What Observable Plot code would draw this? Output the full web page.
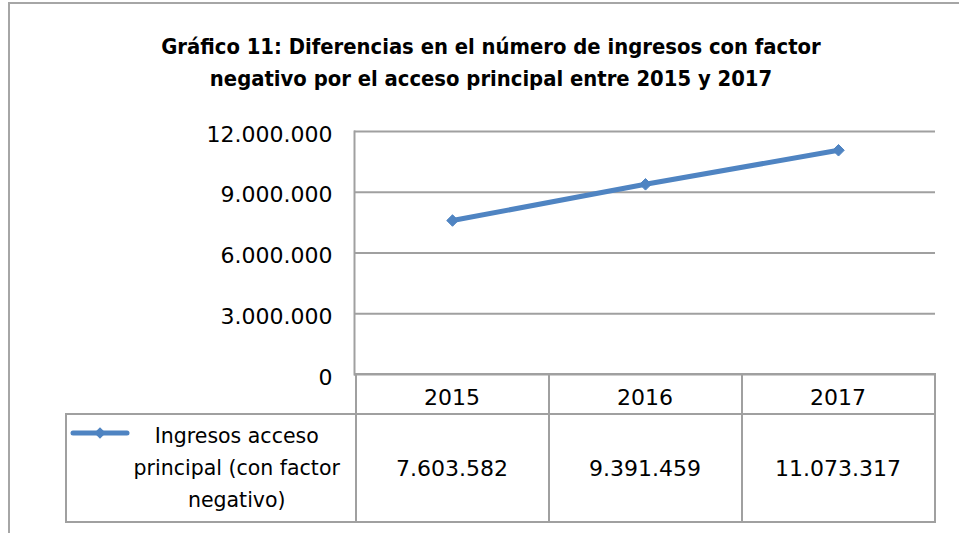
<!DOCTYPE html>
<html><head><meta charset="utf-8">
<script src="https://cdn.jsdelivr.net/npm/d3@7"></script>
<script src="https://cdn.jsdelivr.net/npm/@observablehq/plot@0.6"></script>
<style>
html,body{margin:0;padding:0;background:#fff;}
body{width:959px;height:533px;overflow:hidden;position:relative;font-family:"DejaVu Sans",sans-serif;color:#000;}
#border{position:absolute;left:8px;top:2px;width:1200px;height:900px;border:2px solid #a6a6a6;box-sizing:border-box;}
#title{position:absolute;left:0;top:31px;width:982px;text-align:center;font-weight:bold;line-height:32px;font-family:"DejaVu Sans Condensed","DejaVu Sans",sans-serif;white-space:nowrap;}
#chart{position:absolute;left:0;top:110px;}
.cell{position:absolute;box-sizing:border-box;border:2px solid #a0a0a0;display:flex;align-items:center;justify-content:center;text-align:center;background:transparent;}
.num{font-size:22px;}
.leg{font-size:20.5px;line-height:32px;padding-left:56px;padding-right:4px;}
</style></head><body>
<div id="border"></div>
<div id="title"></div>
<div id="chart"></div>
<div id="table"></div>
<script>
const titleLines = ["Gráfico 11: Diferencias en el número de ingresos con factor", "negativo por el acceso principal entre 2015 y 2017"];
const years = ["2015", "2016", "2017"];
const values = [7603582, 9391459, 11073317];
const yTicks = [0, 3000000, 6000000, 9000000, 12000000];
const seriesLines = ["Ingresos acceso", "principal (con factor", "negativo)"];
const lineColor = "#4f84c2";
const gridColor = "#a0a0a0";

const fmt = d3.formatLocale({decimal: ",", thousands: ".", grouping: [3], currency: ["", ""]}).format(",d");

// Title, fitted to the reference width
const tdiv = document.getElementById("title");
const ctx = document.createElement("canvas").getContext("2d");
ctx.font = "bold 20px 'DejaVu Sans Condensed', 'DejaVu Sans'";
const w1 = ctx.measureText(titleLines[0]).width;
const tsize = Math.min(22, 20 * 660 / w1);
tdiv.style.fontSize = tsize + "px";
tdiv.innerHTML = titleLines.map(t => `<div>${t}</div>`).join("");

const data = years.map((year, i) => ({year, value: values[i]}));

const chart = Plot.plot({
  width: 959, height: 266,
  marginLeft: 354, marginRight: 24, marginTop: 21, marginBottom: 2,
  style: {fontFamily: "DejaVu Sans", fontSize: "22px", color: "#000", background: "transparent", overflow: "visible"},
  x: {type: "point", domain: years, padding: 0.5, axis: null},
  y: {domain: [0, 12000000], axis: null},
  marks: [
    Plot.gridY(yTicks, {stroke: gridColor, strokeOpacity: 1, strokeWidth: 2}),
    Plot.frame({anchor: "left", stroke: gridColor, strokeWidth: 2}),
    Plot.axisY(yTicks, {tickSize: 0, tickPadding: 22, tickFormat: fmt, fontSize: 22, dy: 3, label: null, fill: "#000"}),
    Plot.line(data, {x: "year", y: "value", stroke: lineColor, strokeWidth: 5}),
    Plot.dot(data, {x: "year", y: "value", symbol: "diamond2", r: 5.2, fill: lineColor, stroke: lineColor, strokeWidth: 1})
  ]
});
document.getElementById("chart").appendChild(chart);

// Data table below the plot, aligned to the x scale
const xs = chart.scale("x");
const ys = chart.scale("y");
const top0 = 110 + ys.apply(0);
const centers = years.map(y => xs.apply(y));
const step = centers[1] - centers[0];
const left0 = centers[0] - step / 2;
const tbl = d3.select("#table");
const headTop = top0 - 1, headH = 42;
const valTop = headTop + headH - 2, valH = 110;
years.forEach((y, i) => {
  const l = centers[i] - step / 2 - 1;
  tbl.append("div").attr("class", "cell num")
    .style("left", l + "px").style("top", headTop + "px")
    .style("width", (step + 2) + "px").style("height", headH + "px")
    .style("padding-top", "6px")
    .text(y);
  tbl.append("div").attr("class", "cell num")
    .style("left", l + "px").style("top", valTop + "px")
    .style("width", (step + 2) + "px").style("height", valH + "px")
    .text(fmt(values[i]));
});
const legLeft = 65;
tbl.append("div").attr("class", "cell leg")
  .style("left", legLeft + "px").style("top", valTop + "px")
  .style("width", (left0 - legLeft + 1) + "px").style("height", valH + "px")
  .html(seriesLines.join("<br>"));
// legend swatch
const sw = tbl.append("svg").attr("width", 64).attr("height", 18)
  .style("position", "absolute").style("left", "68px").style("top", (valTop + 11) + "px");
sw.append("line").attr("x1", 5).attr("x2", 59).attr("y1", 9).attr("y2", 9)
  .attr("stroke", lineColor).attr("stroke-width", 5).attr("stroke-linecap", "round");
sw.append("path").attr("transform", "translate(32,9)")
  .attr("d", d3.symbol(d3.symbolDiamond2, 85)()).attr("fill", lineColor);
</script>
</body></html>
